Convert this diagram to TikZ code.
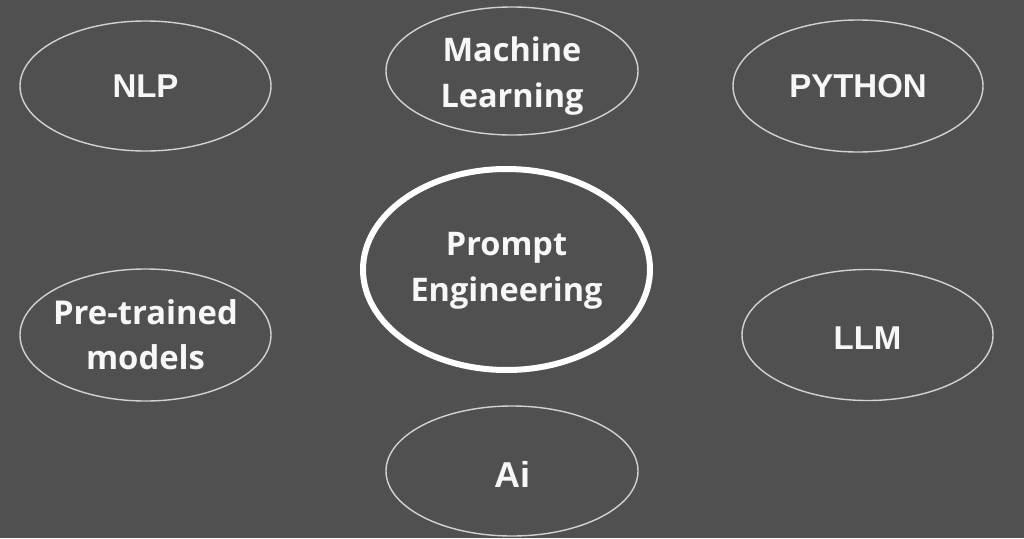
\documentclass[tikz,border=0pt]{standalone}
\usepackage{fontspec}
\setmainfont{Open Sans}
\newfontfamily\arialb{Liberation Sans}
\usetikzlibrary{shapes.geometric}
\definecolor{bg}{HTML}{505050}
\definecolor{rim}{HTML}{D2D2D2}
\definecolor{txt}{HTML}{F7F7F7}
\tikzset{
  bubble/.style={ellipse, draw=rim, line width=1.4pt, inner sep=0pt},
  hub/.style={ellipse, draw=white, line width=6pt, inner sep=0pt},
  lbl/.style={text=txt, align=center, inner sep=0pt},
  osb/.style={lbl, font=\fontsize{32.5}{46}\bfseries\selectfont},
  arb/.style={lbl, font=\arialb\fontsize{33}{46}\bfseries\selectfont}
}
\begin{document}
\begin{tikzpicture}[x=1pt,y=-1pt]
\fill[bg] (0,0) rectangle (1024,538);
\useasboundingbox (0,0) rectangle (1024,538);
\node[bubble, minimum width=251pt, minimum height=130pt] (nlp) at (145.5,86) {};
\node[arb] (nlpt) at (nlp.center) {NLP};
\node[bubble, minimum width=252pt, minimum height=128pt] (ml) at (512,71) {};
\node[osb] (mlt) at ([yshift=-5pt]ml.center) {Machine\\Learning};
\node[bubble, minimum width=250pt, minimum height=132pt] (py) at (858,86) {};
\node[arb] (pyt) at (py.center) {PYTHON};
\node[hub, minimum width=287pt, minimum height=201pt] (pe) at (506.5,269.5) {};
\node[lbl, font=\fontsize{32.5}{46}\bfseries\selectfont] (pet) at ([yshift=-1pt]pe.center) {Prompt\\Engineering};
\node[bubble, minimum width=251pt, minimum height=132pt] (pt) at (145.5,335) {};
\node[lbl, font=\fontsize{32.8}{45}\bfseries\selectfont] (ptt) at (pt.center) {Pre-trained\\models};
\node[bubble, minimum width=251pt, minimum height=131pt] (llm) at (867.5,335) {};
\node[arb] (llmt) at ([yshift=-3pt]llm.center) {LLM};
\node[bubble, minimum width=252pt, minimum height=130pt] (ai) at (512,471) {};
\node[arb, font=\arialb\fontsize{36}{46}\bfseries\selectfont] (ait) at ([yshift=-3pt]ai.center) {Ai};
\end{tikzpicture}
\end{document}
